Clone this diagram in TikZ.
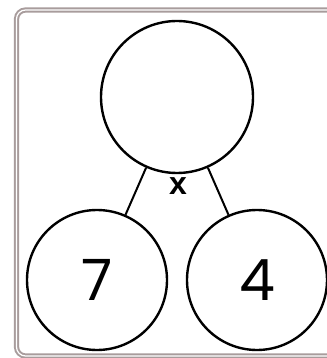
\documentclass[tikz,border=0pt]{standalone}
\usepackage{fontspec}
\newfontfamily\digitfont{Poppins}
\newfontfamily\labelfont{Liberation Sans}
\begin{document}
\begin{tikzpicture}[x=1pt,y=-1pt,
  bubble/.style={circle,draw=black,line width=2.4pt,inner sep=0pt,fill=white},
  link/.style={draw=black,line width=2pt},
  frameline/.style={draw={rgb,255:red,168;green,156;blue,156},line width=2pt,double=white,double distance=1.2pt,rounded corners=9pt}]
\useasboundingbox (0,0) rectangle (326,358);
\fill[white] (0,0) rectangle (326,358);
\draw[frameline] (16.5,10) rectangle (340,356);
\node[bubble,minimum size=152pt] (top) at (177,97) {};
\node[bubble,minimum size=140pt] (left) at (97,280) {};
\node[bubble,minimum size=140pt] (right) at (257,280) {};
\draw[link] (top) -- (left);
\draw[link] (top) -- (right);
\node[font=\labelfont\bfseries\fontsize{32}{32}\selectfont] (op) at (178,186) {x};
\node[font=\digitfont\fontsize{57}{57}\selectfont] (a) at (97,280) {7};
\node[font=\digitfont\fontsize{57}{57}\selectfont] (b) at (257,280) {4};
\end{tikzpicture}
\end{document}
